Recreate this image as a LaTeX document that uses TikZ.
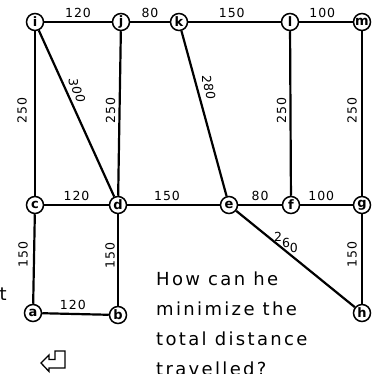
\documentclass[tikz,border=0pt]{standalone}
\usepackage{fontspec}
\setmainfont{DejaVu Sans}
\usepackage{tikz}
\usetikzlibrary{shapes,arrows,positioning}

\begin{document}
\begin{tikzpicture}[
    x=1pt, y=-1pt,
    town/.style={draw, circle, line width=1.5pt, inner sep=0pt, minimum size=17pt, font=\fontsize{13}{13}\selectfont\bfseries},
    road/.style={line width=2.2pt},
    dist/.style={draw=none, inner sep=0pt, font=\fontsize{12.5}{12.5}\selectfont\addfontfeature{LetterSpace=8}},
    vdist/.style={dist, rotate=90},
    ddist/.style={dist, rotate=-90},
    words/.style={inner sep=0pt, align=left, font=\fontsize{18}{30}\selectfont\addfontfeature{LetterSpace=13}}
]
\useasboundingbox (0,0) rectangle (373,374);

% top row
\node[town] (i) at (35,22) {i};
\node[town] (j) [right of=i, node distance=86pt] {j};
\node[town] (k) [right of=j, node distance=58pt] {k};
\node[town] (l) [right of=k, node distance=111pt] {l};
\node[town] (m) [right of=l, node distance=72pt] {m};
% middle row
\node[town] (c) [below of=i, node distance=183pt] {c};
\node[town] (d) [right of=c, node distance=83pt] {d};
\node[town] (e) [right of=d, node distance=111pt] {e};
\node[town] (f) [right of=e, node distance=62pt] {f};
\node[town] (g) [right of=f, node distance=71pt] {g};
% bottom row
\node[town] (a) [below of=c, node distance=108pt, xshift=-2pt] {a};
\node[town] (b) [below of=d, node distance=110pt] {b};
\node[town] (h) [below of=g, node distance=108pt] {h};

\draw[road] (i) -- node[dist, midway, above=3pt] {120} (j);
\draw[road] (j) -- node[dist, midway, above=3pt] {80} (k);
\draw[road] (k) -- node[dist, pos=0.47, above=3pt] {150} (l);
\draw[road] (l) -- node[dist, pos=0.43, above=3pt] {100} (m);
\draw[road] (c) -- node[dist, midway, above=3pt] {120} (d);
\draw[road] (d) -- node[dist, pos=0.43, above=3pt] {150} (e);
\draw[road] (e) -- node[dist, midway, above=3pt] {80} (f);
\draw[road] (f) -- node[dist, pos=0.4, above=3pt] {100} (g);
\draw[road] (a) -- node[dist, pos=0.46, above=3pt] {120} (b);

\draw[road] (i) -- node[xshift=-13pt, pos=0.48, vdist] {250} (c);
\draw[road] (j) -- node[xshift=-9pt, pos=0.48, vdist] {250} (d);
\draw[road] (l) -- node[xshift=-9pt, pos=0.48, vdist] {250} (f);
\draw[road] (m) -- node[xshift=-10pt, pos=0.48, vdist] {250} (g);
\draw[road] (c) -- node[xshift=-11pt, pos=0.45, vdist] {150} (a);
\draw[road] (d) -- node[xshift=-8pt, pos=0.45, vdist] {150} (b);
\draw[road] (g) -- node[xshift=-10pt, pos=0.45, vdist] {150} (h);

% stepped labels on the slanted roads
\draw[road] (i) -- node[xshift=11pt, pos=0.36, ddist] {3\raisebox{3.5pt}{0}\raisebox{7pt}{0}} (d);
\draw[road] (k) -- node[xshift=12pt, pos=0.34, ddist] {2\raisebox{2pt}{8}\raisebox{4pt}{0}} (e);
\draw[road] (e) -- node[dist, pos=0.42, yshift=9pt] {2\raisebox{-6pt}{6}\raisebox{-11pt}{0}} (h);

\node[words, anchor=north west] (question) at (156,272)
    {How can he\\minimize the\\total distance\\travelled?};
\node[words, anchor=base east] (cut) at (7,300) {t};

% return key
\draw[line width=1.3pt, line join=miter]
    (41,363) -- (49,355) -- (49,359.5) -- (55,359.5) -- (55,351) -- (65,351)
    -- (65,368) -- (49,368) -- (49,371.5) -- cycle;
\end{tikzpicture}
\end{document}
